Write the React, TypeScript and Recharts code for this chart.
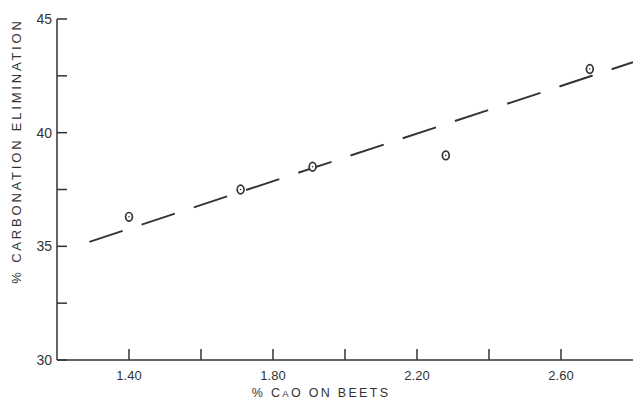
import { ComposedChart, Line, Scatter, XAxis, YAxis, Label } from "recharts";

// CaO dose (% on beets) vs carbonation elimination (%)
const caoPct = [1.40, 1.71, 1.91, 2.28, 2.68];
const elimPct = [36.3, 37.5, 38.5, 39.0, 42.8];

// fitted trend, drawn dashed
const trendX = [1.29, 2.8];
const trendY = [35.2, 43.1];

const xTicks = [1.4, 1.6, 1.8, 2.0, 2.2, 2.4, 2.6];
const xLabelled = [1.4, 1.8, 2.2, 2.6];
const yTicks = [30, 32.5, 35, 37.5, 40, 42.5, 45];

const points = caoPct.map((x, i) => ({ x, y: elimPct[i] }));
const trend = trendX.map((x, i) => ({ x, y: trendY[i] }));

const INK = "#333";
const FONT = "'Liberation Sans', Arial, sans-serif";

const RingDot = (props: any) => {
    const { cx, cy } = props;
    if (cx == null || cy == null) return null;
    return (
        <g>
            <ellipse cx={cx} cy={cy} rx={3.4} ry={4.3} fill="#fff" stroke={INK} strokeWidth={1.7} />
            <circle cx={cx} cy={cy} r={0.8} fill={INK} />
        </g>
    );
};

export default function App() {
    return (
        <div style={{ position: "absolute", left: 0, top: 0, background: "#fff" }}>
            <ComposedChart
                width={633}
                height={402}
                margin={{ top: 19, right: 0, left: 0, bottom: 0 }}
            >
                <XAxis
                    type="number"
                    dataKey="x"
                    domain={[1.2, 2.8]}
                    ticks={xTicks}
                    allowDataOverflow
                    tickFormatter={(v: number) => (xLabelled.includes(v) ? v.toFixed(2) : "")}
                    height={42}
                    stroke={INK}
                    strokeWidth={1.5}
                    tickSize={-11}
                    tickMargin={22}
                    tick={{ fontSize: 13, fill: INK, fontFamily: FONT }}
                >
                    <Label
                        content={() => (
                            <text
                                x={321}
                                y={397}
                                textAnchor="middle"
                                fontSize={12.5}
                                fontFamily={FONT}
                                fill={INK}
                                letterSpacing={2.3}
                            >
                                % C<tspan fontSize={9.5}>A</tspan>O ON BEETS
                            </text>
                        )}
                    />
                </XAxis>
                <YAxis
                    type="number"
                    dataKey="y"
                    domain={[30, 45]}
                    ticks={yTicks}
                    allowDataOverflow
                    tickFormatter={(v: number) => (v % 5 === 0 ? String(v) : "")}
                    width={57}
                    stroke={INK}
                    strokeWidth={1.5}
                    tickSize={-10}
                    tickMargin={15}
                    tick={{ fontSize: 14, fill: INK, fontFamily: FONT }}
                >
                    <Label
                        content={() => (
                            <text
                                x={18}
                                y={151}
                                transform="rotate(-90, 18, 151)"
                                textAnchor="middle"
                                dominantBaseline="middle"
                                fontSize={13}
                                fontFamily={FONT}
                                fill={INK}
                                letterSpacing={2.8}
                            >
                                % CARBONATION ELIMINATION
                            </text>
                        )}
                    />
                </YAxis>
                <Line
                    data={trend}
                    dataKey="y"
                    type="linear"
                    stroke={INK}
                    strokeWidth={1.9}
                    strokeDasharray="35 20"
                    dot={false}
                    activeDot={false}
                    isAnimationActive={false}
                />
                <Scatter data={points} dataKey="y" shape={RingDot} isAnimationActive={false} />
            </ComposedChart>
        </div>
    );
}
